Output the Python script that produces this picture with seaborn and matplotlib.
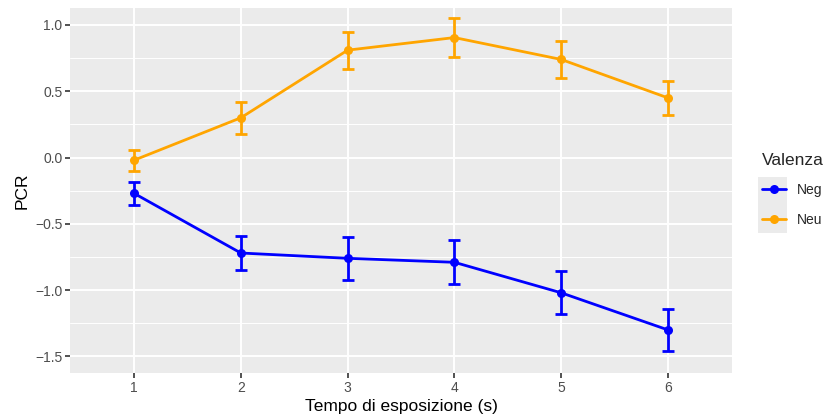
import matplotlib
matplotlib.use("Agg")
import matplotlib.pyplot as plt
from matplotlib.lines import Line2D
from matplotlib.patches import Rectangle
import pandas as pd
import seaborn as sns

# Mean PCR per exposure time, with standard errors
tempo = [1, 2, 3, 4, 5, 6]
neg_mean = [-0.27, -0.72, -0.76, -0.79, -1.02, -1.30]
neg_se = [0.085, 0.13, 0.16, 0.165, 0.163, 0.16]
neu_mean = [-0.02, 0.30, 0.81, 0.905, 0.74, 0.45]
neu_se = [0.08, 0.12, 0.14, 0.145, 0.14, 0.13]
gruppi = ["Neg", "Neu"]
colori = {"Neg": "#0000FF", "Neu": "#FFA500"}

df = pd.concat([
    pd.DataFrame({"Tempo": tempo, "PCR": neg_mean, "se": neg_se, "Valenza": "Neg"}),
    pd.DataFrame({"Tempo": tempo, "PCR": neu_mean, "se": neu_se, "Valenza": "Neu"}),
], ignore_index=True)

sns.set_theme(style="darkgrid", rc={
    "axes.facecolor": "#EBEBEB",
    "grid.color": "white",
    "axes.edgecolor": "#EBEBEB",
})
plt.rcParams["font.family"] = ["Liberation Sans", "DejaVu Sans"]

fig = plt.figure(figsize=(8.26, 4.18), dpi=100)
ax = fig.add_axes([70 / 826, 1 - 373 / 418, (732 - 70) / 826, (373 - 8) / 418])

sns.lineplot(data=df, x="Tempo", y="PCR", hue="Valenza", palette=colori,
             marker="o", markersize=6.5, markeredgewidth=0, linewidth=2.0,
             legend=False, ax=ax, zorder=3)

for g in gruppi:
    sub = df[df["Valenza"] == g]
    ax.errorbar(sub["Tempo"], sub["PCR"], yerr=sub["se"], fmt="none",
                ecolor=colori[g], elinewidth=2.0, capsize=4.5, capthick=2.0,
                zorder=4)

ax.set_xlim(0.4, 6.6)
ax.set_ylim(-1.625, 1.128)
ax.set_xticks(tempo)
ax.set_xticklabels([str(t) for t in tempo])
ax.set_yticks([-1.5, -1.0, -0.5, 0.0, 0.5, 1.0])
ax.set_yticklabels(["\u22121.5", "\u22121.0", "\u22120.5", "0.0", "0.5", "1.0"])
ax.set_yticks([-1.25, -0.75, -0.25, 0.25, 0.75], minor=True)
ax.grid(which="major", color="white", linewidth=1.4)
ax.grid(which="minor", axis="y", color="white", linewidth=0.7)
ax.grid(which="minor", axis="x", visible=False)
for s in ax.spines.values():
    s.set_visible(False)

ax.tick_params(axis="both", which="major", length=3.5, width=1.2, color="#333333",
               labelcolor="#4D4D4D", labelsize=10, pad=2, direction="out",
               bottom=True, left=True)
ax.tick_params(axis="both", which="minor", length=0)

ax.set_xlabel("Tempo di esposizione (s)", fontsize=12.5, color="black", labelpad=3)
ax.set_ylabel("PCR", fontsize=12.5, color="black", labelpad=4)

# Legend with grey key background
handles = [Line2D([0], [0], color=colori[g], lw=2.0, marker="o", markersize=6.5,
                  markeredgewidth=0) for g in gruppi]
fig.patches.append(Rectangle((758 / 826, 1 - 233 / 418), 29 / 826, 56 / 418,
                             transform=fig.transFigure, facecolor="#EBEBEB",
                             edgecolor="none", zorder=1))
leg = fig.legend(handles, gruppi, title="Valenza", loc="upper left",
                 bbox_to_anchor=(756 / 826, 1 - 147 / 418), frameon=False,
                 fontsize=10, title_fontsize=12.5, handlelength=1.73,
                 handletextpad=0.8, labelspacing=1.12, borderaxespad=0)
leg._legend_box.align = "left"

fig.savefig("out.png", dpi=100)
